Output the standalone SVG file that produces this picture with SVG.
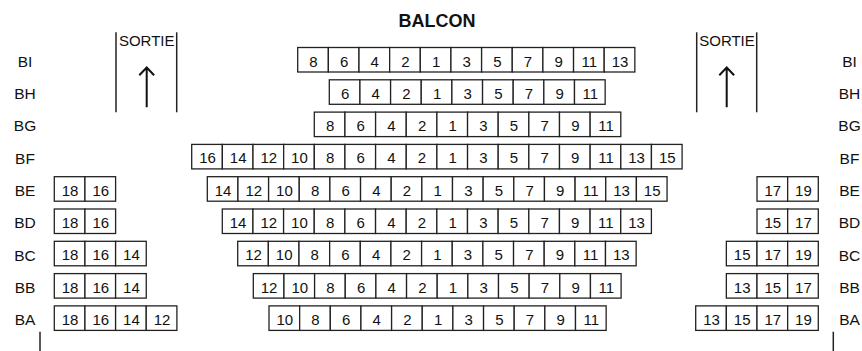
<svg xmlns="http://www.w3.org/2000/svg" width="862" height="351" viewBox="0 0 862 351">
<style>
.c{fill:#fff;stroke:#222;stroke-width:1.3}
.t{font-family:"Liberation Sans",Arial,sans-serif;font-size:15px;fill:#111;text-anchor:middle}
.l{font-family:"Liberation Sans",Arial,sans-serif;font-size:15.5px;fill:#111;text-anchor:middle}
.h{font-family:"Liberation Sans",Arial,sans-serif;font-size:18px;font-weight:bold;fill:#111;text-anchor:middle}
.so{font-family:"Liberation Sans",Arial,sans-serif;font-size:15px;fill:#111;text-anchor:middle}
.w{stroke:#222;stroke-width:1.5;fill:none}
.a{stroke:#111;stroke-width:2;fill:none}
</style>
<rect width="862" height="351" fill="#fff"/>
<text class="h" x="437" y="26.5">BALCON</text>

<g id="sortie-left">
<line class="w" x1="116" y1="32.3" x2="116" y2="112.3"/>
<line class="w" x1="176.7" y1="32.3" x2="176.7" y2="112.3"/>
<text class="so" x="146.7" y="46">SORTIE</text>
<path class="a" d="M146.7 67.5V107.3M139.3 75.2L146.7 67.5L154.1 75.2"/>
</g>
<g id="sortie-right">
<line class="w" x1="696.7" y1="32.3" x2="696.7" y2="112.3"/>
<line class="w" x1="756.7" y1="32.3" x2="756.7" y2="112.3"/>
<text class="so" x="727" y="46">SORTIE</text>
<path class="a" d="M726.7 67.5V107.3M719.3 75.2L726.7 67.5L734.1 75.2"/>
</g>
<g id="ticks">
<line class="w" x1="40" y1="331.7" x2="40" y2="351"/>
<line class="w" x1="833.3" y1="331.7" x2="833.3" y2="351"/>
</g>

<g id="labels">
<text class="l" x="25" y="66.7">BI</text><text class="l" x="849.5" y="66.7">BI</text>
<text class="l" x="25" y="99">BH</text><text class="l" x="849.5" y="99">BH</text>
<text class="l" x="25" y="131.3">BG</text><text class="l" x="849.5" y="131.3">BG</text>
<text class="l" x="25" y="163.6">BF</text><text class="l" x="849.5" y="163.6">BF</text>
<text class="l" x="25" y="195.9">BE</text><text class="l" x="849.5" y="195.9">BE</text>
<text class="l" x="25" y="228.2">BD</text><text class="l" x="849.5" y="228.2">BD</text>
<text class="l" x="25" y="260.5">BC</text><text class="l" x="849.5" y="260.5">BC</text>
<text class="l" x="25" y="292.8">BB</text><text class="l" x="849.5" y="292.8">BB</text>
<text class="l" x="25" y="325.1">BA</text><text class="l" x="849.5" y="325.1">BA</text>
</g>

<g id="row-BI" transform="translate(297.7,47.5)">
<rect class="c" x="0" y="0" width="30.65" height="24.5"/><text class="t" x="15.8" y="19">8</text>
<rect class="c" x="30.65" y="0" width="30.65" height="24.5"/><text class="t" x="46.45" y="19">6</text>
<rect class="c" x="61.3" y="0" width="30.65" height="24.5"/><text class="t" x="77.1" y="19">4</text>
<rect class="c" x="91.95" y="0" width="30.65" height="24.5"/><text class="t" x="107.75" y="19">2</text>
<rect class="c" x="122.6" y="0" width="30.65" height="24.5"/><text class="t" x="138.4" y="19">1</text>
<rect class="c" x="153.25" y="0" width="30.65" height="24.5"/><text class="t" x="169.05" y="19">3</text>
<rect class="c" x="183.9" y="0" width="30.65" height="24.5"/><text class="t" x="199.7" y="19">5</text>
<rect class="c" x="214.55" y="0" width="30.65" height="24.5"/><text class="t" x="230.35" y="19">7</text>
<rect class="c" x="245.2" y="0" width="30.65" height="24.5"/><text class="t" x="261" y="19">9</text>
<rect class="c" x="275.85" y="0" width="30.65" height="24.5"/><text class="t" x="291.65" y="19">11</text>
<rect class="c" x="306.5" y="0" width="30.65" height="24.5"/><text class="t" x="322.3" y="19">13</text>
</g>

<g id="row-BH" transform="translate(329.3,79.8)">
<rect class="c" x="0" y="0" width="30.65" height="24.5"/><text class="t" x="15.8" y="19">6</text>
<rect class="c" x="30.65" y="0" width="30.65" height="24.5"/><text class="t" x="46.45" y="19">4</text>
<rect class="c" x="61.3" y="0" width="30.65" height="24.5"/><text class="t" x="77.1" y="19">2</text>
<rect class="c" x="91.95" y="0" width="30.65" height="24.5"/><text class="t" x="107.75" y="19">1</text>
<rect class="c" x="122.6" y="0" width="30.65" height="24.5"/><text class="t" x="138.4" y="19">3</text>
<rect class="c" x="153.25" y="0" width="30.65" height="24.5"/><text class="t" x="169.05" y="19">5</text>
<rect class="c" x="183.9" y="0" width="30.65" height="24.5"/><text class="t" x="199.7" y="19">7</text>
<rect class="c" x="214.55" y="0" width="30.65" height="24.5"/><text class="t" x="230.35" y="19">9</text>
<rect class="c" x="245.2" y="0" width="30.65" height="24.5"/><text class="t" x="261" y="19">11</text>
</g>

<g id="row-BG" transform="translate(314.3,112.1)">
<rect class="c" x="0" y="0" width="30.65" height="24.5"/><text class="t" x="15.8" y="19">8</text>
<rect class="c" x="30.65" y="0" width="30.65" height="24.5"/><text class="t" x="46.45" y="19">6</text>
<rect class="c" x="61.3" y="0" width="30.65" height="24.5"/><text class="t" x="77.1" y="19">4</text>
<rect class="c" x="91.95" y="0" width="30.65" height="24.5"/><text class="t" x="107.75" y="19">2</text>
<rect class="c" x="122.6" y="0" width="30.65" height="24.5"/><text class="t" x="138.4" y="19">1</text>
<rect class="c" x="153.25" y="0" width="30.65" height="24.5"/><text class="t" x="169.05" y="19">3</text>
<rect class="c" x="183.9" y="0" width="30.65" height="24.5"/><text class="t" x="199.7" y="19">5</text>
<rect class="c" x="214.55" y="0" width="30.65" height="24.5"/><text class="t" x="230.35" y="19">7</text>
<rect class="c" x="245.2" y="0" width="30.65" height="24.5"/><text class="t" x="261" y="19">9</text>
<rect class="c" x="275.85" y="0" width="30.65" height="24.5"/><text class="t" x="291.65" y="19">11</text>
</g>

<g id="row-BF" transform="translate(191.7,144.4)">
<rect class="c" x="0" y="0" width="30.65" height="24.5"/><text class="t" x="15.8" y="19">16</text>
<rect class="c" x="30.65" y="0" width="30.65" height="24.5"/><text class="t" x="46.45" y="19">14</text>
<rect class="c" x="61.3" y="0" width="30.65" height="24.5"/><text class="t" x="77.1" y="19">12</text>
<rect class="c" x="91.95" y="0" width="30.65" height="24.5"/><text class="t" x="107.75" y="19">10</text>
<rect class="c" x="122.6" y="0" width="30.65" height="24.5"/><text class="t" x="138.4" y="19">8</text>
<rect class="c" x="153.25" y="0" width="30.65" height="24.5"/><text class="t" x="169.05" y="19">6</text>
<rect class="c" x="183.9" y="0" width="30.65" height="24.5"/><text class="t" x="199.7" y="19">4</text>
<rect class="c" x="214.55" y="0" width="30.65" height="24.5"/><text class="t" x="230.35" y="19">2</text>
<rect class="c" x="245.2" y="0" width="30.65" height="24.5"/><text class="t" x="261" y="19">1</text>
<rect class="c" x="275.85" y="0" width="30.65" height="24.5"/><text class="t" x="291.65" y="19">3</text>
<rect class="c" x="306.5" y="0" width="30.65" height="24.5"/><text class="t" x="322.3" y="19">5</text>
<rect class="c" x="337.15" y="0" width="30.65" height="24.5"/><text class="t" x="352.95" y="19">7</text>
<rect class="c" x="367.8" y="0" width="30.65" height="24.5"/><text class="t" x="383.6" y="19">9</text>
<rect class="c" x="398.45" y="0" width="30.65" height="24.5"/><text class="t" x="414.25" y="19">11</text>
<rect class="c" x="429.1" y="0" width="30.65" height="24.5"/><text class="t" x="444.9" y="19">13</text>
<rect class="c" x="459.75" y="0" width="30.65" height="24.5"/><text class="t" x="475.55" y="19">15</text>
</g>

<g id="row-BE" transform="translate(207.3,176.7)">
<rect class="c" x="0" y="0" width="30.65" height="24.5"/><text class="t" x="15.8" y="19">14</text>
<rect class="c" x="30.65" y="0" width="30.65" height="24.5"/><text class="t" x="46.45" y="19">12</text>
<rect class="c" x="61.3" y="0" width="30.65" height="24.5"/><text class="t" x="77.1" y="19">10</text>
<rect class="c" x="91.95" y="0" width="30.65" height="24.5"/><text class="t" x="107.75" y="19">8</text>
<rect class="c" x="122.6" y="0" width="30.65" height="24.5"/><text class="t" x="138.4" y="19">6</text>
<rect class="c" x="153.25" y="0" width="30.65" height="24.5"/><text class="t" x="169.05" y="19">4</text>
<rect class="c" x="183.9" y="0" width="30.65" height="24.5"/><text class="t" x="199.7" y="19">2</text>
<rect class="c" x="214.55" y="0" width="30.65" height="24.5"/><text class="t" x="230.35" y="19">1</text>
<rect class="c" x="245.2" y="0" width="30.65" height="24.5"/><text class="t" x="261" y="19">3</text>
<rect class="c" x="275.85" y="0" width="30.65" height="24.5"/><text class="t" x="291.65" y="19">5</text>
<rect class="c" x="306.5" y="0" width="30.65" height="24.5"/><text class="t" x="322.3" y="19">7</text>
<rect class="c" x="337.15" y="0" width="30.65" height="24.5"/><text class="t" x="352.95" y="19">9</text>
<rect class="c" x="367.8" y="0" width="30.65" height="24.5"/><text class="t" x="383.6" y="19">11</text>
<rect class="c" x="398.45" y="0" width="30.65" height="24.5"/><text class="t" x="414.25" y="19">13</text>
<rect class="c" x="429.1" y="0" width="30.65" height="24.5"/><text class="t" x="444.9" y="19">15</text>
</g>

<g id="row-BD" transform="translate(222.3,209)">
<rect class="c" x="0" y="0" width="30.65" height="24.5"/><text class="t" x="15.8" y="19">14</text>
<rect class="c" x="30.65" y="0" width="30.65" height="24.5"/><text class="t" x="46.45" y="19">12</text>
<rect class="c" x="61.3" y="0" width="30.65" height="24.5"/><text class="t" x="77.1" y="19">10</text>
<rect class="c" x="91.95" y="0" width="30.65" height="24.5"/><text class="t" x="107.75" y="19">8</text>
<rect class="c" x="122.6" y="0" width="30.65" height="24.5"/><text class="t" x="138.4" y="19">6</text>
<rect class="c" x="153.25" y="0" width="30.65" height="24.5"/><text class="t" x="169.05" y="19">4</text>
<rect class="c" x="183.9" y="0" width="30.65" height="24.5"/><text class="t" x="199.7" y="19">2</text>
<rect class="c" x="214.55" y="0" width="30.65" height="24.5"/><text class="t" x="230.35" y="19">1</text>
<rect class="c" x="245.2" y="0" width="30.65" height="24.5"/><text class="t" x="261" y="19">3</text>
<rect class="c" x="275.85" y="0" width="30.65" height="24.5"/><text class="t" x="291.65" y="19">5</text>
<rect class="c" x="306.5" y="0" width="30.65" height="24.5"/><text class="t" x="322.3" y="19">7</text>
<rect class="c" x="337.15" y="0" width="30.65" height="24.5"/><text class="t" x="352.95" y="19">9</text>
<rect class="c" x="367.8" y="0" width="30.65" height="24.5"/><text class="t" x="383.6" y="19">11</text>
<rect class="c" x="398.45" y="0" width="30.65" height="24.5"/><text class="t" x="414.25" y="19">13</text>
</g>

<g id="row-BC" transform="translate(237.7,241.3)">
<rect class="c" x="0" y="0" width="30.65" height="24.5"/><text class="t" x="15.8" y="19">12</text>
<rect class="c" x="30.65" y="0" width="30.65" height="24.5"/><text class="t" x="46.45" y="19">10</text>
<rect class="c" x="61.3" y="0" width="30.65" height="24.5"/><text class="t" x="77.1" y="19">8</text>
<rect class="c" x="91.95" y="0" width="30.65" height="24.5"/><text class="t" x="107.75" y="19">6</text>
<rect class="c" x="122.6" y="0" width="30.65" height="24.5"/><text class="t" x="138.4" y="19">4</text>
<rect class="c" x="153.25" y="0" width="30.65" height="24.5"/><text class="t" x="169.05" y="19">2</text>
<rect class="c" x="183.9" y="0" width="30.65" height="24.5"/><text class="t" x="199.7" y="19">1</text>
<rect class="c" x="214.55" y="0" width="30.65" height="24.5"/><text class="t" x="230.35" y="19">3</text>
<rect class="c" x="245.2" y="0" width="30.65" height="24.5"/><text class="t" x="261" y="19">5</text>
<rect class="c" x="275.85" y="0" width="30.65" height="24.5"/><text class="t" x="291.65" y="19">7</text>
<rect class="c" x="306.5" y="0" width="30.65" height="24.5"/><text class="t" x="322.3" y="19">9</text>
<rect class="c" x="337.15" y="0" width="30.65" height="24.5"/><text class="t" x="352.95" y="19">11</text>
<rect class="c" x="367.8" y="0" width="30.65" height="24.5"/><text class="t" x="383.6" y="19">13</text>
</g>

<g id="row-BB" transform="translate(253.3,273.6)">
<rect class="c" x="0" y="0" width="30.65" height="24.5"/><text class="t" x="15.8" y="19">12</text>
<rect class="c" x="30.65" y="0" width="30.65" height="24.5"/><text class="t" x="46.45" y="19">10</text>
<rect class="c" x="61.3" y="0" width="30.65" height="24.5"/><text class="t" x="77.1" y="19">8</text>
<rect class="c" x="91.95" y="0" width="30.65" height="24.5"/><text class="t" x="107.75" y="19">6</text>
<rect class="c" x="122.6" y="0" width="30.65" height="24.5"/><text class="t" x="138.4" y="19">4</text>
<rect class="c" x="153.25" y="0" width="30.65" height="24.5"/><text class="t" x="169.05" y="19">2</text>
<rect class="c" x="183.9" y="0" width="30.65" height="24.5"/><text class="t" x="199.7" y="19">1</text>
<rect class="c" x="214.55" y="0" width="30.65" height="24.5"/><text class="t" x="230.35" y="19">3</text>
<rect class="c" x="245.2" y="0" width="30.65" height="24.5"/><text class="t" x="261" y="19">5</text>
<rect class="c" x="275.85" y="0" width="30.65" height="24.5"/><text class="t" x="291.65" y="19">7</text>
<rect class="c" x="306.5" y="0" width="30.65" height="24.5"/><text class="t" x="322.3" y="19">9</text>
<rect class="c" x="337.15" y="0" width="30.65" height="24.5"/><text class="t" x="352.95" y="19">11</text>
</g>

<g id="row-BA" transform="translate(269,305.9)">
<rect class="c" x="0" y="0" width="30.65" height="24.5"/><text class="t" x="15.8" y="19">10</text>
<rect class="c" x="30.65" y="0" width="30.65" height="24.5"/><text class="t" x="46.45" y="19">8</text>
<rect class="c" x="61.3" y="0" width="30.65" height="24.5"/><text class="t" x="77.1" y="19">6</text>
<rect class="c" x="91.95" y="0" width="30.65" height="24.5"/><text class="t" x="107.75" y="19">4</text>
<rect class="c" x="122.6" y="0" width="30.65" height="24.5"/><text class="t" x="138.4" y="19">2</text>
<rect class="c" x="153.25" y="0" width="30.65" height="24.5"/><text class="t" x="169.05" y="19">1</text>
<rect class="c" x="183.9" y="0" width="30.65" height="24.5"/><text class="t" x="199.7" y="19">3</text>
<rect class="c" x="214.55" y="0" width="30.65" height="24.5"/><text class="t" x="230.35" y="19">5</text>
<rect class="c" x="245.2" y="0" width="30.65" height="24.5"/><text class="t" x="261" y="19">7</text>
<rect class="c" x="275.85" y="0" width="30.65" height="24.5"/><text class="t" x="291.65" y="19">9</text>
<rect class="c" x="306.5" y="0" width="30.65" height="24.5"/><text class="t" x="322.3" y="19">11</text>
</g>

<g id="left-BE" transform="translate(54.3,176.7)">
<rect class="c" x="0" y="0" width="30.65" height="24.5"/><text class="t" x="15.8" y="19">18</text>
<rect class="c" x="30.65" y="0" width="30.65" height="24.5"/><text class="t" x="46.45" y="19">16</text>
</g>
<g id="left-BD" transform="translate(54.3,209)">
<rect class="c" x="0" y="0" width="30.65" height="24.5"/><text class="t" x="15.8" y="19">18</text>
<rect class="c" x="30.65" y="0" width="30.65" height="24.5"/><text class="t" x="46.45" y="19">16</text>
</g>
<g id="left-BC" transform="translate(54.3,241.3)">
<rect class="c" x="0" y="0" width="30.65" height="24.5"/><text class="t" x="15.8" y="19">18</text>
<rect class="c" x="30.65" y="0" width="30.65" height="24.5"/><text class="t" x="46.45" y="19">16</text>
<rect class="c" x="61.3" y="0" width="30.65" height="24.5"/><text class="t" x="77.1" y="19">14</text>
</g>
<g id="left-BB" transform="translate(54.3,273.6)">
<rect class="c" x="0" y="0" width="30.65" height="24.5"/><text class="t" x="15.8" y="19">18</text>
<rect class="c" x="30.65" y="0" width="30.65" height="24.5"/><text class="t" x="46.45" y="19">16</text>
<rect class="c" x="61.3" y="0" width="30.65" height="24.5"/><text class="t" x="77.1" y="19">14</text>
</g>
<g id="left-BA" transform="translate(54.3,305.9)">
<rect class="c" x="0" y="0" width="30.65" height="24.5"/><text class="t" x="15.8" y="19">18</text>
<rect class="c" x="30.65" y="0" width="30.65" height="24.5"/><text class="t" x="46.45" y="19">16</text>
<rect class="c" x="61.3" y="0" width="30.65" height="24.5"/><text class="t" x="77.1" y="19">14</text>
<rect class="c" x="91.95" y="0" width="30.65" height="24.5"/><text class="t" x="107.75" y="19">12</text>
</g>

<g id="right-BE" transform="translate(757,176.7)">
<rect class="c" x="0" y="0" width="30.65" height="24.5"/><text class="t" x="15.8" y="19">17</text>
<rect class="c" x="30.65" y="0" width="30.65" height="24.5"/><text class="t" x="46.45" y="19">19</text>
</g>
<g id="right-BD" transform="translate(757,209)">
<rect class="c" x="0" y="0" width="30.65" height="24.5"/><text class="t" x="15.8" y="19">15</text>
<rect class="c" x="30.65" y="0" width="30.65" height="24.5"/><text class="t" x="46.45" y="19">17</text>
</g>
<g id="right-BC" transform="translate(726.35,241.3)">
<rect class="c" x="0" y="0" width="30.65" height="24.5"/><text class="t" x="15.8" y="19">15</text>
<rect class="c" x="30.65" y="0" width="30.65" height="24.5"/><text class="t" x="46.45" y="19">17</text>
<rect class="c" x="61.3" y="0" width="30.65" height="24.5"/><text class="t" x="77.1" y="19">19</text>
</g>
<g id="right-BB" transform="translate(726.35,273.6)">
<rect class="c" x="0" y="0" width="30.65" height="24.5"/><text class="t" x="15.8" y="19">13</text>
<rect class="c" x="30.65" y="0" width="30.65" height="24.5"/><text class="t" x="46.45" y="19">15</text>
<rect class="c" x="61.3" y="0" width="30.65" height="24.5"/><text class="t" x="77.1" y="19">17</text>
</g>
<g id="right-BA" transform="translate(695.7,305.9)">
<rect class="c" x="0" y="0" width="30.65" height="24.5"/><text class="t" x="15.8" y="19">13</text>
<rect class="c" x="30.65" y="0" width="30.65" height="24.5"/><text class="t" x="46.45" y="19">15</text>
<rect class="c" x="61.3" y="0" width="30.65" height="24.5"/><text class="t" x="77.1" y="19">17</text>
<rect class="c" x="91.95" y="0" width="30.65" height="24.5"/><text class="t" x="107.75" y="19">19</text>
</g>
</svg>
